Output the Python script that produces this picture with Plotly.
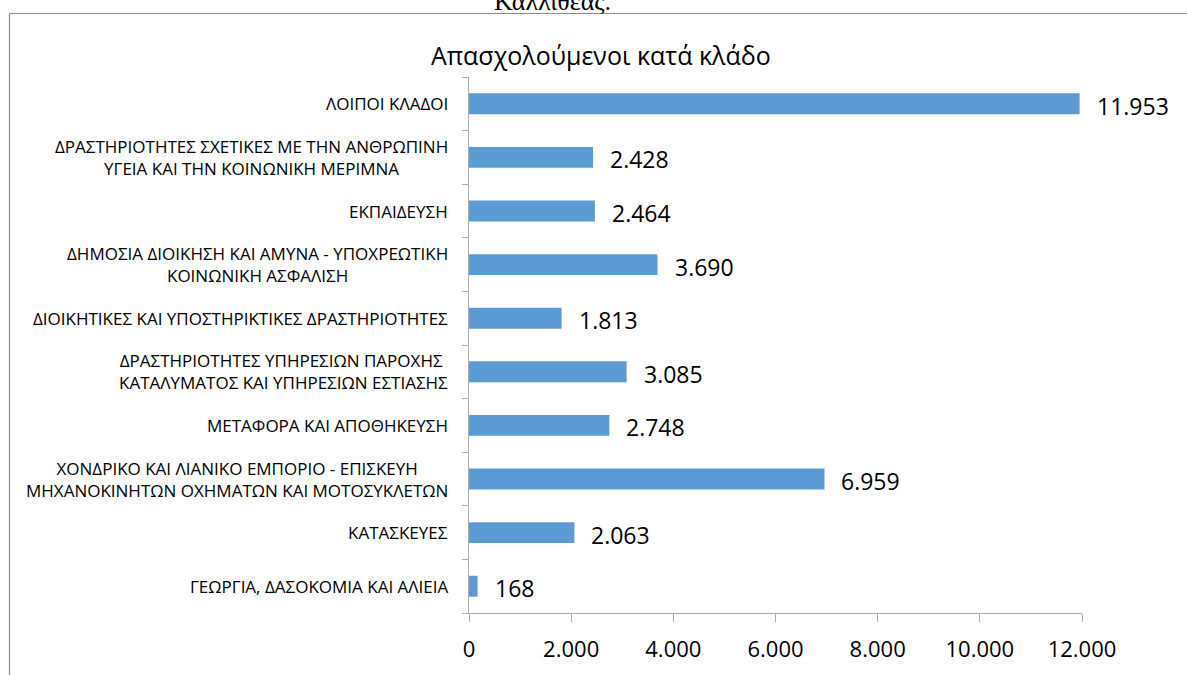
import plotly.graph_objects as go

categories = [
    "ΓΕΩΡΓΙΑ, ΔΑΣΟΚΟΜΙΑ ΚΑΙ ΑΛΙΕΙΑ",
    "ΚΑΤΑΣΚΕΥΕΣ",
    "ΧΟΝΔΡΙΚΟ ΚΑΙ ΛΙΑΝΙΚΟ ΕΜΠΟΡΙΟ - ΕΠΙΣΚΕΥΗ<br>ΜΗΧΑΝΟΚΙΝΗΤΩΝ ΟΧΗΜΑΤΩΝ ΚΑΙ ΜΟΤΟΣΥΚΛΕΤΩΝ",
    "ΜΕΤΑΦΟΡΑ ΚΑΙ ΑΠΟΘΗΚΕΥΣΗ",
    "ΔΡΑΣΤΗΡΙΟΤΗΤΕΣ ΥΠΗΡΕΣΙΩΝ ΠΑΡΟΧΗΣ <br>ΚΑΤΑΛΥΜΑΤΟΣ ΚΑΙ ΥΠΗΡΕΣΙΩΝ ΕΣΤΙΑΣΗΣ",
    "ΔΙΟΙΚΗΤΙΚΕΣ ΚΑΙ ΥΠΟΣΤΗΡΙΚΤΙΚΕΣ ΔΡΑΣΤΗΡΙΟΤΗΤΕΣ",
    "ΔΗΜΟΣΙΑ ΔΙΟΙΚΗΣΗ ΚΑΙ ΑΜΥΝΑ - ΥΠΟΧΡΕΩΤΙΚΗ<br>ΚΟΙΝΩΝΙΚΗ ΑΣΦΑΛΙΣΗ",
    "ΕΚΠΑΙΔΕΥΣΗ",
    "ΔΡΑΣΤΗΡΙΟΤΗΤΕΣ ΣΧΕΤΙΚΕΣ ΜΕ ΤΗΝ ΑΝΘΡΩΠΙΝΗ<br>ΥΓΕΙΑ ΚΑΙ ΤΗΝ ΚΟΙΝΩΝΙΚΗ ΜΕΡΙΜΝΑ",
    "ΛΟΙΠΟΙ ΚΛΑΔΟΙ",
]
employed = [168, 2063, 6959, 2748, 3085, 1813, 3690, 2464, 2428, 11953]
x_ticks = [0, 2000, 4000, 6000, 8000, 10000, 12000]
x_tick_labels = ["0", "2.000", "4.000", "6.000", "8.000", "10.000", "12.000"]
title_text = "Απασχολούμενοι κατά κλάδο"
page_text = "Καλλιθέας."

W, H = 1187, 675
ML, MR, MT, MB = 469, 105, 77, 62
PW, PH = W - ML - MR, H - MT - MB

def px_x(p):
    return (p - ML) / PW

def px_y(p):
    return 1 + (MT - p) / PH

FONT = "Open Sans"
AXIS_COL = "#ABABAB"

fig = go.Figure()
fig.add_trace(go.Bar(
    x=employed, y=categories, orientation="h",
    marker=dict(color="#5B9BD5", line=dict(width=0)),
    width=0.39, hoverinfo="skip",
))

annotations = []
for cat in categories:
    annotations.append(dict(
        x=0, xref="paper", y=cat, yref="y", text=cat,
        xanchor="right", yanchor="middle", align="center", xshift=-19,
        showarrow=False, font=dict(family=FONT, size=17, color="#000000"),
    ))
for cat, v in zip(categories, employed):
    annotations.append(dict(
        x=v, xref="x", y=cat, yref="y",
        text=f"{v:,}".replace(",", "."),
        xanchor="left", yanchor="middle", xshift=15, yshift=-2,
        showarrow=False, font=dict(family=FONT, size=23, color="#000000"),
    ))
annotations.append(dict(
    x=px_x(601), xref="paper", y=px_y(55), yref="paper", text=title_text,
    xanchor="center", yanchor="middle", showarrow=False,
    font=dict(family=FONT, size=25, color="#000000"),
))
annotations.append(dict(
    x=px_x(552), xref="paper", y=px_y(18), yref="paper", text=page_text,
    xanchor="center", yanchor="bottom", showarrow=False,
    font=dict(family="Liberation Serif", size=26, color="#000000"),
))

shapes = [
    dict(type="line", xref="paper", yref="paper",
         x0=px_x(9.5), x1=px_x(1200), y0=px_y(13.5), y1=px_y(13.5),
         line=dict(color="#8C8C8C", width=1.2)),
    dict(type="line", xref="paper", yref="paper",
         x0=px_x(9.5), x1=px_x(9.5), y0=px_y(13.5), y1=px_y(700),
         line=dict(color="#8C8C8C", width=1.2)),
]

fig.update_layout(
    width=W, height=H,
    margin=dict(l=ML, r=MR, t=MT, b=MB, pad=0),
    paper_bgcolor="white", plot_bgcolor="white",
    showlegend=False,
    annotations=annotations, shapes=shapes,
    xaxis=dict(
        range=[0, 12000], tickvals=x_ticks, ticktext=x_tick_labels,
        showgrid=False, zeroline=False,
        showline=True, linecolor=AXIS_COL, linewidth=1.3,
        ticks="outside", ticklen=8, tickcolor=AXIS_COL, tickwidth=1.3,
        tickfont=dict(family=FONT, size=22, color="#000000"),
        ticklabelstandoff=8,
    ),
    yaxis=dict(
        type="category", categoryorder="array", categoryarray=categories,
        range=[-0.5, len(categories) - 0.5],
        showticklabels=False, showgrid=False, zeroline=False,
        showline=True, linecolor=AXIS_COL, linewidth=1.3,
        ticks="outside", ticklen=6, tickcolor=AXIS_COL, tickwidth=1.3,
        tickson="boundaries",
    ),
)

fig.write_html(
    "out.html",
    config={"displayModeBar": False},
    post_script="document.body.style.margin='0';document.body.style.overflow='hidden';",
)
